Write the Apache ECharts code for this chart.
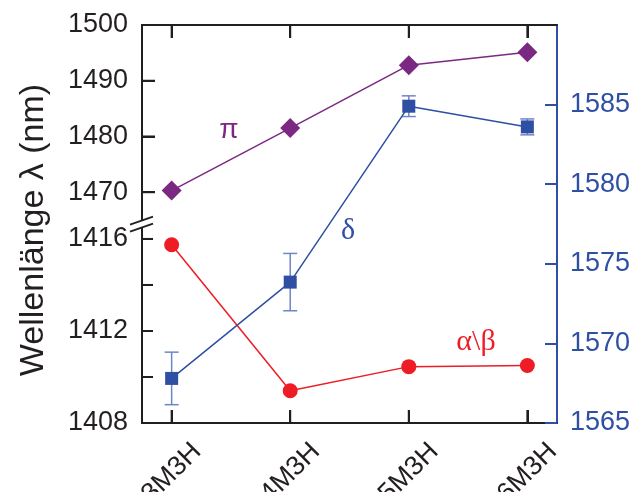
<!DOCTYPE html>
<html>
<head>
<meta charset="utf-8">
<script src="https://cdn.jsdelivr.net/npm/echarts@6/dist/echarts.min.js"></script>
<style>
html,body{margin:0;padding:0;background:#fff;}
#chart{width:634px;height:492px;}
</style>
</head>
<body>
<div id="chart"></div>
<script>
// ---- data ----
var categories = ['3M3H', '4M3H', '5M3H', '6M3H'];
var piValues = [1470.3, 1481.5, 1492.8, 1495.1];            // left axis, upper segment
var alphaBetaValues = [1415.75, 1409.4, 1410.45, 1410.5];  // left axis, lower segment
var deltaValues = [1567.8, 1573.85, 1584.9, 1583.6];        // right axis
var deltaErr = [1.65, 1.8, 0.65, 0.5];
var leftUpperTicks = [1470, 1480, 1490, 1500];
var leftLowerLabels = [1408, 1412, 1416];
var leftLowerTicks = [1408, 1410, 1412, 1414, 1416];
var rightTicks = [1565, 1570, 1575, 1580, 1585];
var xTickIdx = [0, 1, 2, 3];

var BLACK = '#231f20', PURPLE = '#7b2883', BLUE = '#2e4fa3', RED = '#ee1c25', ERRBLUE = '#6f86c6';
var FONT = '"Liberation Sans", Arial, sans-serif';

function pairs(vals) { return vals.map(function (v, i) { return [i, v]; }); }
function plain(v) { return String(v); }

var chart = echarts.init(document.getElementById('chart'), null, { renderer: 'canvas' });

var tickStyle = { color: BLACK, width: 2 };

var option = {
  animation: false,
  backgroundColor: '#fff',
  grid: { left: 142, right: 77, top: 25, bottom: 69, containLabel: false, outerBoundsMode: 'none' },
  xAxis: [{
    type: 'value', min: -0.25, max: 3.25, position: 'bottom',
    splitLine: { show: false },
    axisLine: { show: true, onZero: false, lineStyle: { color: BLACK, width: 2 } },
    axisTick: { show: true, inside: true, length: 13, customValues: xTickIdx, lineStyle: tickStyle },
    axisLabel: {
      show: true, customValues: xTickIdx, rotate: 45, align: 'center', verticalAlign: 'middle', margin: 50,
      fontSize: 27, fontFamily: FONT, color: BLACK,
      formatter: function (v) { return categories[Math.round(v)]; }
    }
  }, {
    type: 'value', min: -0.25, max: 3.25, position: 'top',
    splitLine: { show: false },
    axisLine: { show: true, onZero: false, lineStyle: { color: BLACK, width: 2 } },
    axisTick: { show: true, inside: true, length: 13, customValues: xTickIdx, lineStyle: tickStyle },
    axisLabel: { show: false }
  }],
  yAxis: [
    {
      type: 'value', min: 1428.6, max: 1500, position: 'left',
      splitLine: { show: false }, axisLine: { show: false, onZero: false },
      axisTick: { show: true, inside: true, length: 13, customValues: leftUpperTicks, lineStyle: tickStyle },
      axisLabel: { show: true, customValues: leftUpperTicks, fontSize: 27, fontFamily: FONT, color: BLACK, margin: 14, formatter: plain }
    },
    {
      type: 'value', min: 1408, max: 1425.3, position: 'left',
      splitLine: { show: false }, axisLine: { show: false, onZero: false },
      axisTick: { show: true, inside: true, length: 11, customValues: leftLowerTicks, lineStyle: tickStyle },
      axisLabel: { show: true, customValues: leftLowerLabels, fontSize: 27, fontFamily: FONT, color: BLACK, margin: 14, formatter: plain }
    },
    {
      type: 'value', min: 1565, max: 1590, position: 'right',
      splitLine: { show: false },
      axisLine: { show: true, onZero: false, lineStyle: { color: BLUE, width: 2 } },
      axisTick: { show: true, inside: true, length: 12, customValues: rightTicks, lineStyle: { color: BLUE, width: 2 } },
      axisLabel: { show: true, customValues: rightTicks, fontSize: 27, fontFamily: FONT, color: BLUE, margin: 13, formatter: plain }
    }
  ],
  series: [
    {
      name: 'delta-err', type: 'custom', xAxisIndex: 0, yAxisIndex: 2, z: 2,
      data: deltaValues.map(function (v, i) { return [i, v, deltaErr[i]]; }),
      renderItem: function (params, api) {
        var x = api.value(0), v = api.value(1), e = api.value(2);
        var top = api.coord([x, v + e]), bot = api.coord([x, v - e]);
        var hw = 7;
        var st = { stroke: ERRBLUE, lineWidth: 1.5 };
        return {
          type: 'group', children: [
            { type: 'line', shape: { x1: top[0], y1: top[1], x2: bot[0], y2: bot[1] }, style: st },
            { type: 'line', shape: { x1: top[0] - hw, y1: top[1], x2: top[0] + hw, y2: top[1] }, style: st },
            { type: 'line', shape: { x1: bot[0] - hw, y1: bot[1], x2: bot[0] + hw, y2: bot[1] }, style: st }
          ]
        };
      }
    },
    {
      name: 'π', type: 'line', xAxisIndex: 0, yAxisIndex: 0, z: 3,
      data: pairs(piValues), symbol: 'diamond', symbolSize: [20, 20],
      lineStyle: { color: PURPLE, width: 1.5 }, itemStyle: { color: PURPLE }
    },
    {
      name: 'α\\β', type: 'line', xAxisIndex: 0, yAxisIndex: 1, z: 3,
      data: pairs(alphaBetaValues), symbol: 'circle', symbolSize: 15,
      lineStyle: { color: RED, width: 1.5 }, itemStyle: { color: RED }
    },
    {
      name: 'δ', type: 'line', xAxisIndex: 0, yAxisIndex: 2, z: 4,
      data: pairs(deltaValues), symbol: 'rect', symbolSize: 13,
      lineStyle: { color: BLUE, width: 1.5 }, itemStyle: { color: BLUE }
    }
  ]
};
chart.setOption(option);

// broken left axis line, ticks (derived from axis scales) + annotations
var ax = chart.convertToPixel({ xAxisIndex: 0 }, -0.25);
var yTop = chart.convertToPixel({ yAxisIndex: 0 }, 1500);
var yBot = chart.convertToPixel({ yAxisIndex: 1 }, 1408);
var yBreak1 = chart.convertToPixel({ yAxisIndex: 0 }, 1464.9);
var yBreak2 = yBreak1 + 7;
var lineSt = { stroke: BLACK, lineWidth: 2 };
function slash(yc) {
  return { type: 'line', z: 10, shape: { x1: ax - 12, y1: yc + 4, x2: ax + 11, y2: yc - 4 }, style: { stroke: BLACK, lineWidth: 1.8 } };
}
var g = [
  { type: 'line', z: 10, shape: { x1: ax, y1: yTop - 1, x2: ax, y2: yBreak1 }, style: lineSt },
  { type: 'line', z: 10, shape: { x1: ax, y1: yBreak2, x2: ax, y2: yBot + 1 }, style: lineSt },
  slash(yBreak1), slash(yBreak2)
];
leftUpperTicks.forEach(function (v) {
  var y = chart.convertToPixel({ yAxisIndex: 0 }, v);
  g.push({ type: 'line', z: 10, shape: { x1: ax, y1: y, x2: ax + 13, y2: y }, style: lineSt });
});
leftLowerTicks.forEach(function (v) {
  var y = chart.convertToPixel({ yAxisIndex: 1 }, v);
  g.push({ type: 'line', z: 10, shape: { x1: ax, y1: y, x2: ax + 11, y2: y }, style: lineSt });
});
xTickIdx.forEach(function (i) {
  var x = chart.convertToPixel({ xAxisIndex: 0 }, i);
  g.push({ type: 'line', z: 10, shape: { x1: x, y1: yBot, x2: x, y2: yBot - 13 }, style: lineSt });
  g.push({ type: 'line', z: 10, shape: { x1: x, y1: yTop, x2: x, y2: yTop + 13 }, style: lineSt });
});
g.push(
  { type: 'text', x: 34, y: 230, rotation: Math.PI / 2,
    style: { text: 'Wellenlänge λ (nm)', fill: BLACK, font: '34px ' + FONT, textAlign: 'center', textVerticalAlign: 'middle' } },
  { type: 'text', x: 229, y: 130,
    style: { text: 'π', fill: PURPLE, font: '28px ' + FONT, textAlign: 'center', textVerticalAlign: 'middle' } },
  { type: 'text', x: 348, y: 231,
    style: { text: 'δ', fill: BLUE, font: '30px "Liberation Serif", serif', textAlign: 'center', textVerticalAlign: 'middle' } },
  { type: 'text', x: 476, y: 342,
    style: { text: 'α\\β', fill: RED, font: '30px "Liberation Serif", serif', textAlign: 'center', textVerticalAlign: 'middle' } }
);
chart.setOption({ graphic: g });
</script>
</body>
</html>
